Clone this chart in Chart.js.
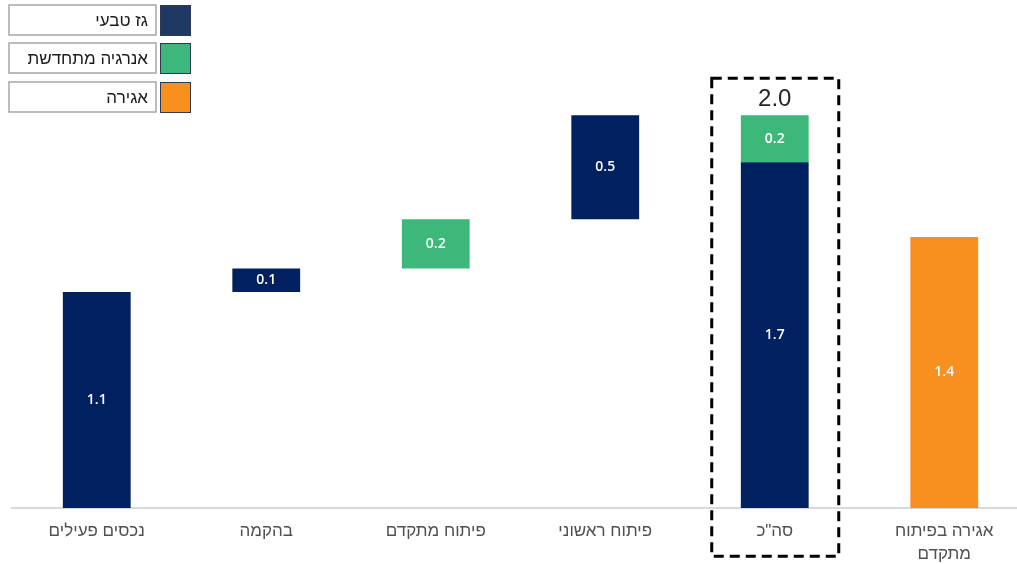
<!DOCTYPE html>
<html lang="he">
<head>
<meta charset="utf-8">
<script src="https://cdn.jsdelivr.net/npm/chart.js@4/dist/chart.umd.min.js"></script>
<style>
  html, body { margin: 0; padding: 0; background: #fff; overflow: hidden; width: 1017px; height: 564px; }
  #wrap { position: relative; width: 1035px; height: 564px; }
</style>
</head>
<body>
<div id="wrap"><canvas id="c"></canvas></div>
<script>
// ---- data ----
const categories = [
  'נכסים פעילים',
  'בהקמה',
  'פיתוח מתקדם',
  'פיתוח ראשוני',
  'סה"כ',
  ['אגירה בפיתוח', 'מתקדם']
];
// floating bars: [start, end]
const gasRanges       = [[0, 1.10], [1.10, 1.22], null, [1.47, 2.00], [0, 1.76], null];
const renewableRanges = [null, null, [1.22, 1.47], null, [1.76, 2.00], null];
const storageRanges   = [null, null, null, null, null, [0, 1.38]];
// printed value labels
const gasLabels       = ['1.1', '0.1', null, '0.5', '1.7', null];
const renewableLabels = [null, null, '0.2', null, '0.2', null];
const storageLabels   = [null, null, null, null, null, '1.4'];
const totalLabel = '2.0';
const totalIndex = 4;
const seriesNames = ['גז טבעי', 'אנרגיה מתחדשת', 'אגירה'];

const COL_GAS = '#002060', COL_REN = '#3CB97A', COL_STO = '#F7901E';
const LEG_GAS = '#203864';

const valueLabelsPlugin = {
  id: 'valueLabels',
  afterDatasetsDraw(chart) {
    const ctx = chart.ctx;
    const all = [gasLabels, renewableLabels, storageLabels];
    ctx.save();
    ctx.fillStyle = '#ffffff';
    ctx.font = '600 14px "Open Sans", "DejaVu Sans", sans-serif';
    ctx.textAlign = 'center';
    ctx.textBaseline = 'middle';
    chart.data.datasets.forEach((ds, di) => {
      const meta = chart.getDatasetMeta(di);
      meta.data.forEach((el, i) => {
        const t = all[di][i];
        if (!t || ds.data[i] == null) return;
        ctx.fillText(t, el.x, (el.y + el.base) / 2);
      });
    });
    ctx.restore();
  }
};

const decorPlugin = {
  id: 'decor',
  afterDraw(chart) {
    const ctx = chart.ctx;
    const xs = chart.scales.x, ys = chart.scales.y;
    const cx = xs.getPixelForValue(totalIndex);
    const totalTop = ys.getPixelForValue(renewableRanges[totalIndex][1]);
    // total label
    ctx.save();
    ctx.fillStyle = '#262626';
    ctx.font = '24px "Liberation Sans", Arial, sans-serif';
    ctx.textAlign = 'center';
    ctx.textBaseline = 'middle';
    ctx.fillText(totalLabel, cx, totalTop - 16);
    // dashed box
    ctx.strokeStyle = '#000';
    ctx.lineWidth = 3;
    ctx.setLineDash([10, 6]);
    ctx.strokeRect(cx - 63, totalTop - 37, 127, 478);
    ctx.restore();

    // legend
    const cols = [LEG_GAS, COL_REN, COL_STO];
    const tops = [5, 43, 82];
    ctx.save();
    tops.forEach((y, k) => {
      ctx.fillStyle = '#fff';
      ctx.fillRect(9, y, 147, 30);
      ctx.strokeStyle = '#a6a6a6';
      ctx.lineWidth = 1.5;
      ctx.strokeRect(9, y, 147, 30);
      ctx.fillStyle = cols[k];
      ctx.fillRect(160, y, 30, 30);
      ctx.strokeStyle = '#2f3b55';
      ctx.lineWidth = 1;
      ctx.strokeRect(160.5, y + 0.5, 30, 30);
      ctx.fillStyle = '#1a1a1a';
      ctx.font = '17px "Liberation Sans", Arial, sans-serif';
      ctx.textAlign = 'right';
      ctx.textBaseline = 'middle';
      ctx.fillText(seriesNames[k], 148, y + 16);
    });
    ctx.restore();
  }
};

new Chart(document.getElementById('c'), {
  type: 'bar',
  data: {
    labels: categories,
    datasets: [
      { label: seriesNames[0], data: gasRanges, backgroundColor: COL_GAS },
      { label: seriesNames[1], data: renewableRanges, backgroundColor: COL_REN },
      { label: seriesNames[2], data: storageRanges, backgroundColor: COL_STO }
    ]
  },
  options: {
    responsive: true,
    maintainAspectRatio: false,
    animation: false,
    layout: { padding: { left: 12, right: 6, top: 17, bottom: 0 } },
    datasets: { bar: { categoryPercentage: 1, barPercentage: 0.4, borderSkipped: false } },
    plugins: { legend: { display: false }, tooltip: { enabled: false } },
    scales: {
      x: {
        stacked: true,
        grid: { display: false, drawTicks: false },
        border: { display: true, color: '#d9d9d9', width: 2 },
        ticks: {
          color: '#505050',
          font: { family: '"Liberation Sans", Arial, sans-serif', size: 17, lineHeight: 1.35 },
          padding: 12,
          maxRotation: 0,
          autoSkip: false
        },
        afterFit(scale) { scale.height = 56; }
      },
      y: {
        display: false,
        stacked: false,
        min: 0,
        max: 2.5
      }
    }
  },
  plugins: [valueLabelsPlugin, decorPlugin]
});
</script>
</body>
</html>
